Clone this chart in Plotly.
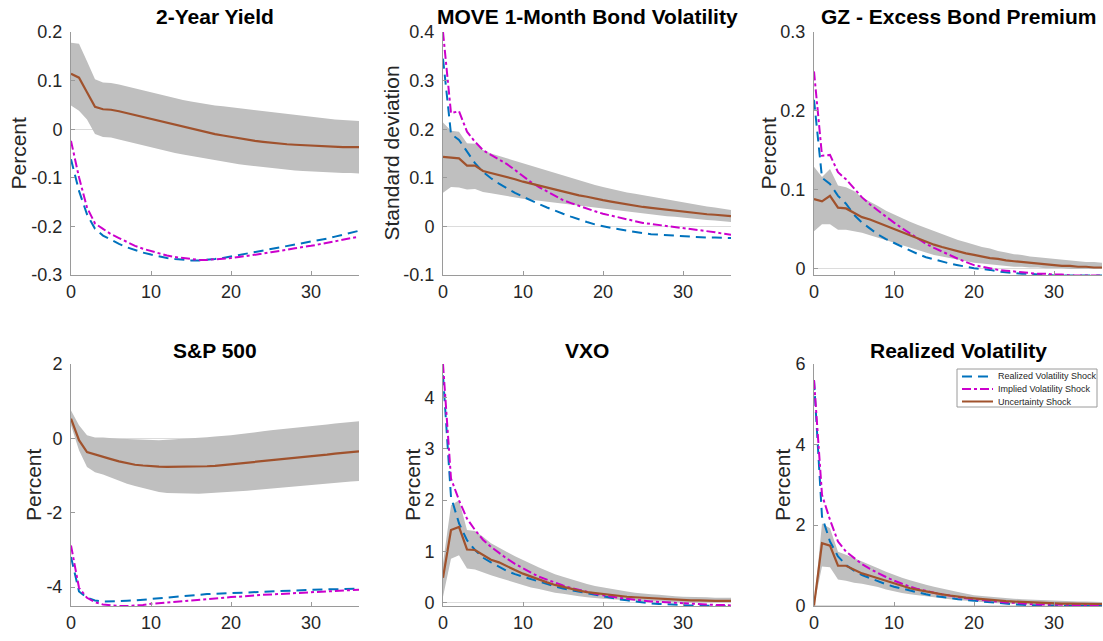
import plotly.graph_objects as go

W, H = 1103, 641

horizon = list(range(37))
x_ticks = [0, 10, 20, 30]
x_tick_labels = ["0", "10", "20", "30"]

titles = ["2-Year Yield", "MOVE 1-Month Bond Volatility", "GZ - Excess Bond Premium",
          "S&P 500", "VXO", "Realized Volatility"]
y_titles = ["Percent", "Standard deviation", "Percent", "Percent", "Percent", "Percent"]

series_names = ["Realized Volatility Shock", "Implied Volatility Shock", "Uncertainty Shock"]

# ---- 2-Year Yield ----
y2_unc = [0.114, 0.106, 0.076, 0.046, 0.041, 0.040, 0.037, 0.033, 0.029, 0.025, 0.021, 0.017, 0.013,
          0.009, 0.005, 0.001, -0.003, -0.006, -0.010, -0.013, -0.016, -0.019, -0.021, -0.024, -0.026,
          -0.028, -0.029, -0.031, -0.032, -0.033, -0.034, -0.035, -0.036, -0.036, -0.037, -0.037, -0.037]
y2_hi = [0.178, 0.176, 0.140, 0.103, 0.096, 0.095, 0.092, 0.088, 0.084, 0.079, 0.075, 0.071, 0.068,
         0.064, 0.060, 0.057, 0.054, 0.051, 0.049, 0.047, 0.045, 0.043, 0.041, 0.039, 0.037, 0.035,
         0.033, 0.031, 0.029, 0.027, 0.025, 0.023, 0.022, 0.020, 0.019, 0.018, 0.017]
y2_lo = [0.049, 0.038, 0.020, -0.010, -0.016, -0.017, -0.021, -0.025, -0.029, -0.034, -0.038, -0.042,
         -0.045, -0.049, -0.052, -0.055, -0.058, -0.061, -0.064, -0.067, -0.070, -0.072, -0.074, -0.076,
         -0.078, -0.080, -0.082, -0.083, -0.085, -0.086, -0.087, -0.088, -0.089, -0.089, -0.090, -0.090, -0.091]
y2_rv = [-0.062, -0.127, -0.175, -0.205, -0.219, -0.228, -0.236, -0.243, -0.249, -0.254, -0.258, -0.262,
         -0.265, -0.267, -0.269, -0.270, -0.270, -0.269, -0.267, -0.265, -0.262, -0.259, -0.256, -0.253,
         -0.250, -0.247, -0.244, -0.241, -0.238, -0.235, -0.232, -0.229, -0.225, -0.221, -0.217, -0.213, -0.209]
y2_iv = [-0.024, -0.099, -0.161, -0.194, -0.205, -0.216, -0.224, -0.232, -0.240, -0.246, -0.251, -0.256,
         -0.260, -0.263, -0.265, -0.267, -0.269, -0.269, -0.268, -0.267, -0.265, -0.263, -0.261, -0.259,
         -0.256, -0.253, -0.251, -0.248, -0.245, -0.243, -0.240, -0.237, -0.234, -0.230, -0.227, -0.224, -0.221]

# ---- MOVE ----
mv_unc = [0.143, 0.142, 0.140, 0.125, 0.125, 0.114, 0.110, 0.106, 0.101, 0.097, 0.092, 0.088, 0.084,
          0.080, 0.075, 0.071, 0.068, 0.064, 0.061, 0.057, 0.054, 0.051, 0.048, 0.046, 0.043, 0.040,
          0.038, 0.036, 0.034, 0.032, 0.030, 0.028, 0.027, 0.025, 0.024, 0.022, 0.021]
mv_hi = [0.214, 0.197, 0.195, 0.171, 0.170, 0.157, 0.150, 0.145, 0.140, 0.135, 0.130, 0.125, 0.119,
         0.114, 0.109, 0.104, 0.099, 0.094, 0.090, 0.085, 0.081, 0.077, 0.074, 0.070, 0.067, 0.064,
         0.061, 0.058, 0.055, 0.052, 0.049, 0.047, 0.044, 0.041, 0.039, 0.036, 0.034]
mv_lo = [0.069, 0.081, 0.080, 0.076, 0.077, 0.071, 0.068, 0.065, 0.062, 0.060, 0.057, 0.055, 0.053,
         0.051, 0.049, 0.047, 0.045, 0.043, 0.041, 0.039, 0.037, 0.035, 0.033, 0.031, 0.028, 0.026,
         0.024, 0.023, 0.021, 0.020, 0.018, 0.017, 0.015, 0.013, 0.012, 0.010, 0.009]
mv_rv = [0.345, 0.190, 0.178, 0.154, 0.130, 0.112, 0.099, 0.088, 0.078, 0.069, 0.061, 0.053, 0.046,
         0.039, 0.032, 0.026, 0.020, 0.014, 0.009, 0.004, 0.000, -0.003, -0.006, -0.009, -0.012, -0.014,
         -0.016, -0.017, -0.019, -0.020, -0.021, -0.022, -0.022, -0.023, -0.023, -0.024, -0.024]
mv_iv = [0.400, 0.233, 0.237, 0.195, 0.174, 0.157, 0.147, 0.138, 0.128, 0.116, 0.103, 0.091, 0.081,
         0.072, 0.063, 0.054, 0.048, 0.042, 0.036, 0.031, 0.026, 0.022, 0.018, 0.014, 0.010, 0.007,
         0.005, 0.003, 0.001, -0.001, -0.003, -0.005, -0.008, -0.010, -0.012, -0.015, -0.017]

# ---- GZ Excess Bond Premium ----
gz_unc = [0.088, 0.085, 0.092, 0.077, 0.076, 0.070, 0.065, 0.062, 0.058, 0.053, 0.049, 0.045, 0.041,
          0.037, 0.034, 0.030, 0.027, 0.024, 0.022, 0.019, 0.017, 0.015, 0.013, 0.012, 0.010, 0.009,
          0.008, 0.007, 0.006, 0.005, 0.004, 0.003, 0.003, 0.002, 0.002, 0.001, 0.001]
gz_hi = [0.129, 0.116, 0.126, 0.105, 0.103, 0.098, 0.090, 0.085, 0.079, 0.073, 0.068, 0.064, 0.059,
         0.055, 0.051, 0.047, 0.043, 0.040, 0.036, 0.033, 0.030, 0.027, 0.025, 0.022, 0.020, 0.018,
         0.017, 0.015, 0.014, 0.013, 0.012, 0.011, 0.010, 0.009, 0.008, 0.008, 0.007]
gz_lo = [0.047, 0.056, 0.056, 0.049, 0.049, 0.047, 0.045, 0.042, 0.039, 0.035, 0.032, 0.029, 0.026,
         0.023, 0.020, 0.017, 0.015, 0.013, 0.011, 0.009, 0.007, 0.006, 0.005, 0.004, 0.003, 0.002,
         0.002, 0.001, 0.001, 0.000, 0.000, 0.000, -0.001, -0.001, -0.001, -0.001, -0.001]
gz_rv = [0.214, 0.115, 0.107, 0.092, 0.082, 0.068, 0.058, 0.050, 0.043, 0.037, 0.032, 0.027, 0.022,
         0.018, 0.014, 0.011, 0.008, 0.006, 0.004, 0.002, 0.000, -0.001, -0.002, -0.004, -0.005, -0.006,
         -0.007, -0.007, -0.008, -0.008, -0.009, -0.009, -0.009, -0.009, -0.009, -0.009, -0.009]
gz_iv = [0.250, 0.143, 0.144, 0.122, 0.113, 0.101, 0.090, 0.081, 0.073, 0.065, 0.058, 0.051, 0.044,
         0.037, 0.031, 0.026, 0.021, 0.016, 0.012, 0.008, 0.004, 0.002, 0.000, -0.002, -0.003, -0.004,
         -0.005, -0.006, -0.007, -0.007, -0.008, -0.008, -0.009, -0.009, -0.009, -0.009, -0.009]

# ---- S&P 500 ----
sp_unc = [0.53, -0.05, -0.37, -0.44, -0.50, -0.56, -0.62, -0.67, -0.71, -0.73, -0.75, -0.76, -0.77,
          -0.77, -0.77, -0.77, -0.76, -0.75, -0.74, -0.72, -0.70, -0.68, -0.66, -0.64, -0.62, -0.60,
          -0.57, -0.55, -0.53, -0.50, -0.48, -0.46, -0.44, -0.41, -0.39, -0.37, -0.35]
sp_hi = [0.75, 0.35, 0.08, 0.02, 0.02, 0.00, -0.01, -0.02, -0.03, -0.04, -0.05, -0.05, -0.04, -0.03,
         -0.02, -0.01, 0.01, 0.03, 0.05, 0.06, 0.08, 0.11, 0.13, 0.16, 0.19, 0.22, 0.24, 0.26, 0.29,
         0.31, 0.33, 0.35, 0.37, 0.40, 0.42, 0.44, 0.46]
sp_lo = [0.35, -0.32, -0.77, -0.91, -0.97, -1.06, -1.15, -1.22, -1.28, -1.34, -1.40, -1.44, -1.47,
         -1.48, -1.49, -1.49, -1.49, -1.48, -1.47, -1.46, -1.44, -1.42, -1.41, -1.39, -1.37, -1.35,
         -1.33, -1.31, -1.29, -1.27, -1.25, -1.23, -1.22, -1.20, -1.18, -1.16, -1.15]
sp_rv = [-3.19, -4.12, -4.29, -4.36, -4.39, -4.39, -4.39, -4.37, -4.36, -4.34, -4.31, -4.29, -4.27,
         -4.25, -4.23, -4.22, -4.21, -4.19, -4.18, -4.17, -4.16, -4.15, -4.14, -4.14, -4.13, -4.12,
         -4.11, -4.10, -4.09, -4.08, -4.07, -4.07, -4.06, -4.06, -4.05, -4.05, -4.04]
sp_iv = [-2.88, -4.02, -4.29, -4.41, -4.47, -4.49, -4.51, -4.51, -4.50, -4.48, -4.45, -4.43, -4.41,
         -4.39, -4.38, -4.36, -4.34, -4.32, -4.30, -4.29, -4.27, -4.26, -4.24, -4.23, -4.21, -4.20,
         -4.19, -4.18, -4.16, -4.15, -4.14, -4.13, -4.11, -4.10, -4.09, -4.08, -4.07]

# ---- VXO ----
vx_unc = [0.49, 1.42, 1.48, 1.04, 1.03, 0.93, 0.84, 0.79, 0.71, 0.64, 0.57, 0.51, 0.45, 0.40, 0.35,
          0.31, 0.27, 0.24, 0.21, 0.19, 0.17, 0.15, 0.13, 0.12, 0.11, 0.10, 0.09, 0.08, 0.07, 0.06,
          0.05, 0.05, 0.05, 0.04, 0.04, 0.04, 0.04]
vx_hi = [0.77, 1.90, 2.00, 1.42, 1.40, 1.29, 1.16, 1.07, 0.99, 0.91, 0.83, 0.76, 0.69, 0.62, 0.56,
         0.51, 0.46, 0.41, 0.37, 0.33, 0.30, 0.27, 0.25, 0.22, 0.20, 0.18, 0.17, 0.16, 0.14, 0.13,
         0.12, 0.12, 0.11, 0.11, 0.10, 0.10, 0.10]
vx_lo = [0.12, 0.86, 0.93, 0.67, 0.65, 0.59, 0.54, 0.49, 0.44, 0.39, 0.34, 0.30, 0.27, 0.23, 0.20,
         0.18, 0.15, 0.13, 0.11, 0.09, 0.08, 0.07, 0.06, 0.05, 0.04, 0.04, 0.03, 0.03, 0.02, 0.02,
         0.01, 0.01, 0.01, 0.01, 0.01, 0.01, 0.01]
vx_rv = [4.43, 2.06, 1.55, 1.22, 1.03, 0.88, 0.79, 0.70, 0.62, 0.56, 0.51, 0.46, 0.41, 0.36, 0.32,
         0.28, 0.25, 0.21, 0.18, 0.15, 0.12, 0.10, 0.07, 0.05, 0.03, 0.00, -0.01, -0.02, -0.03, -0.04,
         -0.05, -0.05, -0.05, -0.06, -0.06, -0.06, -0.06]
vx_iv = [4.65, 2.42, 2.00, 1.64, 1.42, 1.23, 1.09, 0.97, 0.86, 0.76, 0.67, 0.59, 0.51, 0.45, 0.39,
         0.34, 0.29, 0.25, 0.21, 0.18, 0.15, 0.12, 0.10, 0.08, 0.06, 0.05, 0.03, 0.02, 0.01, 0.00,
         -0.01, -0.02, -0.03, -0.03, -0.04, -0.04, -0.05]

# ---- Realized Volatility ----
rv_unc = [0.00, 1.55, 1.49, 0.99, 0.99, 0.89, 0.80, 0.74, 0.68, 0.61, 0.55, 0.49, 0.43, 0.39, 0.35,
          0.31, 0.28, 0.25, 0.22, 0.20, 0.18, 0.16, 0.14, 0.13, 0.11, 0.10, 0.09, 0.08, 0.07, 0.07,
          0.06, 0.05, 0.05, 0.05, 0.04, 0.04, 0.04]
rv_hi = [0.00, 2.04, 1.92, 1.34, 1.26, 1.18, 1.09, 1.01, 0.93, 0.84, 0.76, 0.69, 0.63, 0.57, 0.52,
         0.47, 0.42, 0.38, 0.34, 0.30, 0.26, 0.24, 0.22, 0.20, 0.18, 0.17, 0.16, 0.15, 0.14, 0.13,
         0.12, 0.11, 0.11, 0.10, 0.10, 0.09, 0.09]
rv_lo = [0.00, 0.97, 0.95, 0.65, 0.62, 0.57, 0.54, 0.50, 0.46, 0.40, 0.35, 0.31, 0.28, 0.25, 0.23,
         0.21, 0.18, 0.16, 0.14, 0.12, 0.10, 0.09, 0.07, 0.06, 0.05, 0.04, 0.04, 0.03, 0.03, 0.02,
         0.02, 0.02, 0.01, 0.01, 0.01, 0.01, 0.01]
rv_rv = [5.60, 2.21, 1.59, 1.22, 1.01, 0.87, 0.76, 0.68, 0.60, 0.53, 0.47, 0.42, 0.37, 0.33, 0.28,
         0.24, 0.21, 0.18, 0.16, 0.14, 0.12, 0.10, 0.08, 0.06, 0.04, 0.03, 0.02, 0.01, 0.01, 0.00,
         0.00, 0.00, -0.01, -0.01, -0.01, -0.01, -0.01]
rv_iv = [5.60, 2.75, 2.13, 1.59, 1.34, 1.18, 1.03, 0.91, 0.80, 0.71, 0.62, 0.54, 0.47, 0.41, 0.36,
         0.32, 0.28, 0.24, 0.21, 0.18, 0.16, 0.13, 0.11, 0.09, 0.08, 0.07, 0.05, 0.04, 0.03, 0.03,
         0.02, 0.02, 0.02, 0.01, 0.01, 0.01, 0.01]

# tick values / labels per panel
y_tick_vals = [
    [-0.3, -0.2, -0.1, 0, 0.1, 0.2],
    [-0.1, 0, 0.1, 0.2, 0.3, 0.4],
    [0, 0.1, 0.2, 0.3],
    [-4, -2, 0, 2],
    [0, 1, 2, 3, 4],
    [0, 2, 4, 6],
]
y_tick_labels = [
    ["-0.3", "-0.2", "-0.1", "0", "0.1", "0.2"],
    ["-0.1", "0", "0.1", "0.2", "0.3", "0.4"],
    ["0", "0.1", "0.2", "0.3"],
    ["-4", "-2", "0", "2"],
    ["0", "1", "2", "3", "4"],
    ["0", "2", "4", "6"],
]
y_ranges = [[-0.3, 0.2], [-0.1, 0.4], [-0.0085, 0.3], [-4.51, 2], [-0.06, 4.65], [-0.01, 6]]

panels = [
    (y2_unc, y2_hi, y2_lo, y2_rv, y2_iv),
    (mv_unc, mv_hi, mv_lo, mv_rv, mv_iv),
    (gz_unc, gz_hi, gz_lo, gz_rv, gz_iv),
    (sp_unc, sp_hi, sp_lo, sp_rv, sp_iv),
    (vx_unc, vx_hi, vx_lo, vx_rv, vx_iv),
    (rv_unc, rv_hi, rv_lo, rv_rv, rv_iv),
]

# layout geometry (pixels)
col_px = [(71, 359), (443, 731), (814, 1102)]
row_px = [(32, 275), (364, 606)]
ytitle_x = [18, 391, 768, 33, 412, 782]
title_y = [17, 350]

BLUE = "#0072BD"
MAG = "#CC00CC"
BROWN = "#A0522D"
BAND = "#BFBFBF"
FONT = "Liberation Sans, Arial, sans-serif"
TXT = "#262626"
AX = "#9a9a9a"

line_styles = [
    dict(color=BLUE, width=2, dash="10px,6px"),
    dict(color=MAG, width=2, dash="9px,3px,3px,3px"),
    dict(color=BROWN, width=2.2, dash="solid"),
]

fig = go.Figure()
annotations = []
shapes = []

for i, (unc, hi, lo, rvs, ivs) in enumerate(panels):
    r, c = divmod(i, 3)
    n = i + 1
    xa = "x" if n == 1 else f"x{n}"
    ya = "y" if n == 1 else f"y{n}"
    fig.add_trace(go.Scatter(x=horizon, y=hi, mode="lines", line=dict(width=0, color=BAND),
                             showlegend=False, hoverinfo="skip", xaxis=xa, yaxis=ya))
    fig.add_trace(go.Scatter(x=horizon, y=lo, mode="lines", line=dict(width=0, color=BAND),
                             fill="tonexty", fillcolor=BAND, showlegend=False, hoverinfo="skip",
                             xaxis=xa, yaxis=ya))
    for k, ys in enumerate([rvs, ivs, unc]):
        fig.add_trace(go.Scatter(x=horizon, y=ys, mode="lines", name=series_names[k],
                                 line=line_styles[k], showlegend=False, xaxis=xa, yaxis=ya))

    x0, x1 = col_px[c]
    y0, y1 = row_px[r]
    xdom = [x0 / W, x1 / W]
    ydom = [1 - y1 / H, 1 - y0 / H]
    xkey = "xaxis" if n == 1 else f"xaxis{n}"
    ykey = "yaxis" if n == 1 else f"yaxis{n}"
    fig.layout[xkey] = dict(domain=xdom, range=[0, 36], anchor=ya, tickmode="array",
                            tickvals=x_ticks, ticktext=x_tick_labels, showgrid=False,
                            zeroline=False, showline=True, linecolor=AX, linewidth=1,
                            ticks="inside", ticklen=4, tickcolor=AX,
                            tickfont=dict(family=FONT, size=18, color=TXT), automargin=False)
    fig.layout[ykey] = dict(domain=ydom, range=y_ranges[i], anchor=xa, tickmode="array",
                            tickvals=y_tick_vals[i], ticktext=y_tick_labels[i], showgrid=False,
                            zeroline=True, zerolinecolor="#dcdcdc", zerolinewidth=1,
                            showline=True, linecolor=AX, linewidth=1,
                            ticks="inside", ticklen=4, tickcolor=AX, ticklabelstandoff=4,
                            tickfont=dict(family=FONT, size=18, color=TXT), automargin=False)
    annotations.append(dict(text=f"<b>{titles[i]}</b>", xref="paper", yref="paper",
                            x=(x0 + x1) / 2 / W, y=1 - title_y[r] / H, xanchor="center",
                            yanchor="middle", showarrow=False,
                            font=dict(family=FONT, size=21, color="#000000")))
    annotations.append(dict(text=y_titles[i], xref="paper", yref="paper",
                            x=ytitle_x[i] / W, y=1 - (y0 + y1) / 2 / H, xanchor="center",
                            yanchor="middle", textangle=-90, showarrow=False,
                            font=dict(family=FONT, size=21, color=TXT)))

# compact MATLAB-style legend box inside the last panel (paper coordinates)
lg_x0, lg_x1, lg_y0, lg_y1 = 957, 1097, 369, 407
shapes.append(dict(type="rect", xref="paper", yref="paper", layer="above",
                   x0=lg_x0 / W, x1=lg_x1 / W, y0=1 - lg_y1 / H, y1=1 - lg_y0 / H,
                   line=dict(color="#9a9a9a", width=1), fillcolor="white"))
for k, name in enumerate(series_names):
    yc = 376.5 + 12.5 * k
    st = line_styles[k]
    shapes.append(dict(type="line", xref="paper", yref="paper", layer="above",
                       x0=962 / W, x1=993 / W, y0=1 - yc / H, y1=1 - yc / H,
                       line=dict(color=st["color"], width=2, dash=st["dash"])))
    annotations.append(dict(text=name, xref="paper", yref="paper", x=996 / W, y=1 - yc / H,
                            xanchor="left", yanchor="middle", showarrow=False,
                            font=dict(family=FONT, size=9, color=TXT)))

fig.update_layout(
    width=W, height=H,
    margin=dict(l=0, r=0, t=0, b=0),
    paper_bgcolor="white", plot_bgcolor="white",
    annotations=annotations,
    shapes=shapes,
    showlegend=False,
    hovermode=False,
)

fig.write_html("out.html", config={"displayModeBar": False, "staticPlot": True},
               post_script="document.body.style.margin='0';")
